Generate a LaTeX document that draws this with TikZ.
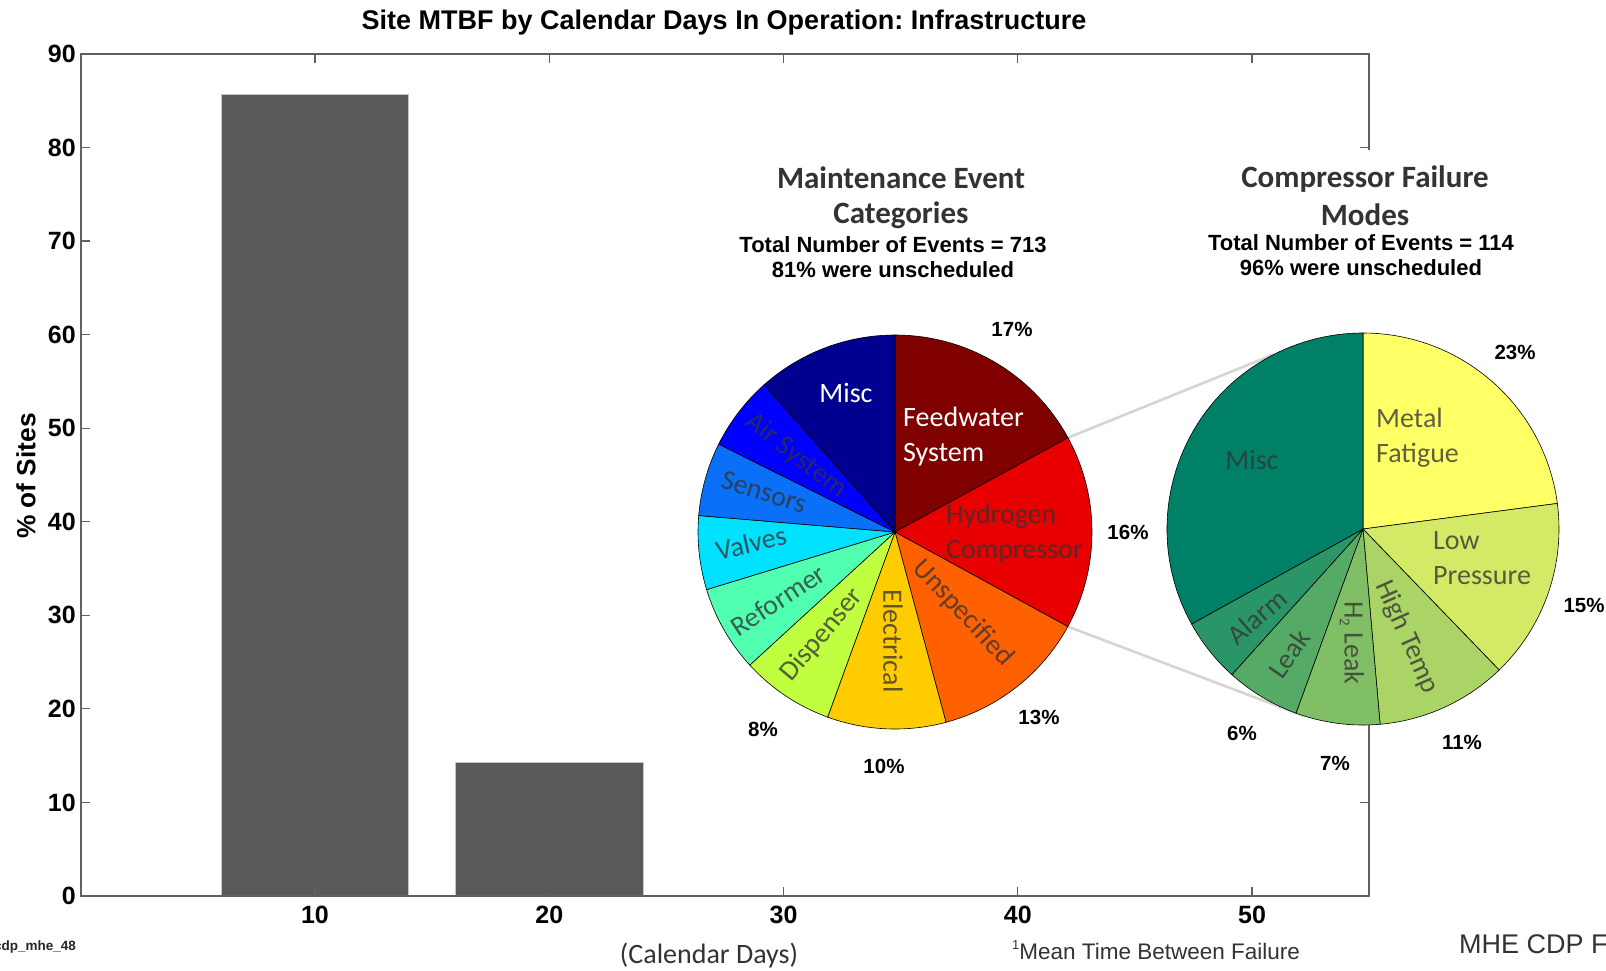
\documentclass[tikz,border=0pt]{standalone}
\usepackage{fontspec}
\usetikzlibrary{calc}
\setmainfont{Liberation Sans}
\newfontfamily\calfont{Carlito}
\frenchspacing
\definecolor{dk}{HTML}{333333}
\definecolor{framec}{HTML}{606060}
\definecolor{barc}{HTML}{595959}
\definecolor{connc}{HTML}{D6D6CE}
% pie 1 colours
\definecolor{feed}{HTML}{800000}
\definecolor{hydro}{HTML}{E80000}
\definecolor{unspec}{HTML}{FF6000}
\definecolor{elec}{HTML}{FFCC00}
\definecolor{disp}{HTML}{BFFF40}
\definecolor{refo}{HTML}{50FFB0}
\definecolor{valv}{HTML}{00E0FF}
\definecolor{sens}{HTML}{0A70F8}
\definecolor{airs}{HTML}{0000FF}
\definecolor{miscA}{HTML}{000090}
% pie 2 colours
\definecolor{metal}{HTML}{FFFF66}
\definecolor{lowp}{HTML}{D4EA66}
\definecolor{hight}{HTML}{AAD466}
\definecolor{htwo}{HTML}{80BF66}
\definecolor{leak}{HTML}{55AA66}
\definecolor{alarm}{HTML}{2A9566}
\definecolor{miscB}{HTML}{008066}
\newcommand\pieslice[5]{\filldraw[slice,fill=#2] (#1) -- ++(#3:#5) arc[start angle=#3,end angle=#4,radius=#5] -- cycle;}
\begin{document}
\begin{tikzpicture}[x=1pt,y=-1pt,
  frame/.style={draw=framec,line width=1.8pt},
  tickl/.style={font=\bfseries\fontsize{25}{25}\selectfont,inner sep=0pt},
  bar/.style={fill=barc,draw=gray!45,line width=1pt},
  slice/.style={draw=black,line width=0.6pt},
  conn/.style={draw=connc,line width=2.6pt},
  slbl/.style={font=\calfont\fontsize{28}{35}\selectfont,inner sep=0pt,align=left},
  lblw/.style={slbl,text=white},
  lbld/.style={slbl,text=#1!22!dk},
  pct/.style={font=\bfseries\fontsize{20.5}{20.5}\selectfont,inner sep=0pt},
  ptitle/.style={font=\calfont\bfseries\fontsize{31}{37}\selectfont,text=dk,inner sep=0pt},
  psub/.style={font=\bfseries\fontsize{22}{25}\selectfont,inner sep=0pt}]
\useasboundingbox (0,0) rectangle (1606,970);
\fill[white] (0,0) rectangle (1606,970);
% title
\node[font=\bfseries\fontsize{27}{27}\selectfont,inner sep=0pt] (title) at (724,22.5) {Site MTBF by Calendar Days In Operation: Infrastructure};
% bars
\fill[bar] (221.3,896) rectangle (408.7,94.1);
\fill[bar] (455.8,896) rectangle (643.2,762.3);
\draw[bar,fill=none] (221.3,896) rectangle (408.7,94.1);
\draw[bar,fill=none] (455.8,896) rectangle (643.2,762.3);
% frame and ticks
\draw[frame] (81,54) rectangle (1369,896);
\foreach \v in {10,20,...,50}{
  \pgfmathsetmacro\xx{80.75+23.425*\v}
  \draw[frame,line width=1.2pt] (\xx,896) -- (\xx,887);
  \draw[frame,line width=1.2pt] (\xx,54) -- (\xx,63);
  \node[tickl,anchor=north] (xt\v) at (\xx,906) {\v};
}
\foreach \v in {0,10,...,90}{
  \pgfmathsetmacro\yy{896-9.356*\v}
  \draw[frame,line width=1.2pt] (81,\yy) -- (90,\yy);
  \draw[frame,line width=1.2pt] (1369,\yy) -- (1360,\yy);
  \node[tickl,anchor=east] (yt\v) at (76,\yy) {\v};
}
\node[font=\bfseries\fontsize{26.3}{26.3}\selectfont,rotate=90,inner sep=0pt] (ylab) at (26,476) {\% of Sites};
% overlay of the pie charts
\fill[white] (680,150) rectangle (1606,722);
% pie centres and connector ends
\coordinate (p1c) at (895,532);
\coordinate (p2c) at (1363,529);
\coordinate (c1a) at ($(p1c)+(28.6:197pt)$);
\coordinate (c1b) at ($(p1c)+(-28.7:197pt)$);
\coordinate (c2a) at ($(p2c)+(117:196pt)$);
\coordinate (c2b) at ($(p2c)+(-107.6:196pt)$);
\draw[conn] (c1a) -- (c2a);
\draw[conn] (c1b) -- (c2b);
% pie 1
\pieslice{p1c}{feed}{90}{28.6}{197pt}
\pieslice{p1c}{hydro}{28.6}{-28.7}{197pt}
\pieslice{p1c}{unspec}{-28.7}{-75}{197pt}
\pieslice{p1c}{elec}{-75}{-110}{197pt}
\pieslice{p1c}{disp}{-110}{-137.5}{197pt}
\pieslice{p1c}{refo}{-137.5}{-163}{197pt}
\pieslice{p1c}{valv}{-163}{-184.8}{197pt}
\pieslice{p1c}{sens}{-184.8}{-206.5}{197pt}
\pieslice{p1c}{airs}{-206.5}{-228.4}{197pt}
\pieslice{p1c}{miscA}{-228.4}{-270}{197pt}
% pie 2
\pieslice{p2c}{metal}{90}{7.5}{196pt}
\pieslice{p2c}{lowp}{7.5}{-46}{196pt}
\pieslice{p2c}{hight}{-46}{-85}{196pt}
\pieslice{p2c}{htwo}{-85}{-110}{196pt}
\pieslice{p2c}{leak}{-110}{-132}{196pt}
\pieslice{p2c}{alarm}{-132}{-151}{196pt}
\pieslice{p2c}{miscB}{-151}{-270}{196pt}
% pie titles
\node[ptitle] (t1a) at (901,178) {Maintenance Event};
\node[ptitle] (t1b) at (901,215) {Categories};
\node[psub] (s1a) at (893,245) {Total Number of Events = 713};
\node[psub] (s1b) at (893,270) {81\% were unscheduled};
\node[ptitle] (t2a) at (1365,179) {Compressor Failure};
\node[ptitle] (t2b) at (1365,215) {Modes};
\node[psub] (s2a) at (1361,243) {Total Number of Events = 114};
\node[psub] (s2b) at (1361,268) {96\% were unscheduled};
% pie 1 labels
\node[lblw] (l1misc) at (846,393) {Misc};
\node[lblw,anchor=west] (l1feed) at (903,437) {Feedwater\\System};
\node[lbld=hydro,anchor=west] (l1hyd) at (946,534) {Hydrogen\\Compressor};
\node[lbld=unspec,rotate=-47] (l1uns) at (963,613) {Unspecified};
\node[lbld=elec,rotate=-90] (l1ele) at (893,641) {Electrical};
\node[lbld=disp,rotate=50] (l1dis) at (822,635) {Dispenser};
\node[lbld=refo,rotate=33] (l1ref) at (778,600) {Reformer};
\node[lbld=valv,rotate=13] (l1val) at (751,543) {Valves};
\node[lbld=sens,rotate=-17] (l1sen) at (764,492) {Sensors};
\node[lbld=airs,rotate=-38] (l1air) at (796,456) {Air System};
% pie 1 percentages
\node[pct] (q17) at (1012,329) {17\%};
\node[pct] (q16) at (1128,532) {16\%};
\node[pct] (q13) at (1039,717) {13\%};
\node[pct] (q10) at (884,766) {10\%};
\node[pct] (q8) at (763,729) {8\%};
% pie 2 labels
\node[lbld=miscB] (l2misc) at (1252,460) {Misc};
\node[lbld=metal,anchor=west] (l2met) at (1376,438) {Metal\\Fatigue};
\node[lbld=lowp,anchor=west] (l2low) at (1433,558) {Low\\Pressure};
\node[lbld=hight,rotate=-66] (l2hig) at (1407,637) {High Temp};
\node[lbld=htwo,rotate=-90] (l2h2) at (1352,643) {H\raisebox{-0.35ex}{\fontsize{15}{15}\selectfont 2} Leak};
\node[lbld=leak,rotate=55] (l2lea) at (1289,654) {Leak};
\node[lbld=alarm,rotate=41] (l2ala) at (1257,617) {Alarm};
% pie 2 percentages
\node[pct] (r23) at (1515,352) {23\%};
\node[pct] (r15) at (1584,605) {15\%};
\node[pct] (r11) at (1462,742) {11\%};
\node[pct] (r7) at (1335,763) {7\%};
\node[pct] (r6) at (1242,733) {6\%};
% footer texts
\node[font=\calfont\fontsize{28}{28}\selectfont,text=dk,inner sep=0pt] (xlab) at (709,955) {(Calendar Days)};
\node[font=\fontsize{22.5}{22.5}\selectfont,text=dk,inner sep=0pt,anchor=west] (mtbf) at (1012,950) {\raisebox{0.8ex}{\fontsize{13}{13}\selectfont 1}Mean Time Between Failure};
\node[font=\fontsize{27}{27}\selectfont,text=dk,inner sep=0pt,anchor=west] (mhe) at (1459,944) {MHE CDP F};
\node[font=\bfseries\fontsize{13.5}{13.5}\selectfont,text=black!85,inner sep=0pt,anchor=west] (fid) at (-6,947) {cdp\_mhe\_48};
\end{tikzpicture}
\end{document}
